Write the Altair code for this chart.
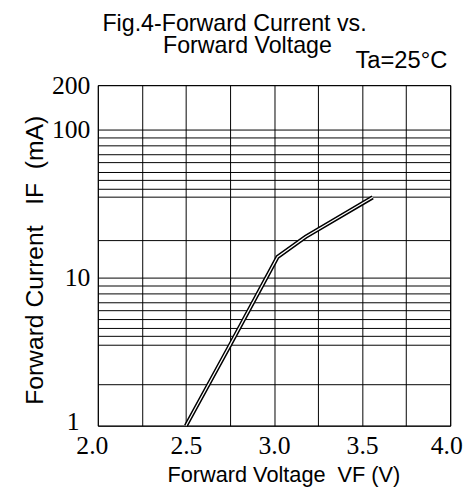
import altair as alt
import pandas as pd

# Curve (Forward Voltage in V, Forward Current in mA)
voltage = [2.5, 2.75, 3.02, 3.18, 3.56]
current = [1.0, 3.5, 13.8, 18.9, 34.9]

# Grid lines and tick labels as drawn in the reference
x_grid = [2.0, 2.25, 2.5, 2.75, 3.0, 3.25, 3.5, 3.75, 4.0]
x_labels = [2.0, 2.5, 3.0, 3.5, 4.0]
y_grid = [1, 1.9, 3.55, 4.05, 4.6, 5.25, 6.0, 6.85, 7.8, 8.85, 10,
          18, 35, 40, 45.5, 52, 60, 68, 78, 89, 100, 200]
y_labels = [1, 10, 100, 200]

title_lines = ["Fig.4-Forward Current vs.", "\u200b\u00a0\u00a0\u00a0\u00a0Forward Voltage"]
x_title = "Forward Voltage\u00a0\u00a0VF (V)"
y_title = "Forward Current\u00a0\u00a0\u00a0IF\u00a0\u00a0(mA)"
condition = ["Ta=25°C"]

df = pd.DataFrame({"V": voltage, "I": current})
cond_df = pd.DataFrame({"t": condition})

x_expr = "indexof([" + ",".join(str(v) for v in x_labels) + "], datum.value) >= 0 ? format(datum.value, '.1f') : ''"
y_expr = "indexof([" + ",".join(str(v) for v in y_labels) + "], datum.value) >= 0 ? format(datum.value, 'd') : ''"

x_enc = alt.X(
    "V:Q",
    scale=alt.Scale(domain=[2.0, 4.0], nice=False, zero=False),
    axis=alt.Axis(
        values=x_grid, labelExpr=x_expr, title=x_title,
        labelPadding=7, labelOverlap=False, labelFlush=False,
        labelOffset={"condition": [{"test": "datum.value == 2", "value": -6},
                                   {"test": "datum.value == 4", "value": -4}], "value": 0},
        titleX=188, titleY=57, titleBaseline="alphabetic", titleAlign="center",
    ),
)
y_enc = alt.Y(
    "I:Q",
    scale=alt.Scale(type="log", domain=[1, 200], nice=False),
    axis=alt.Axis(
        values=y_grid, labelExpr=y_expr, title=y_title,
        labelPadding={"condition": {"test": "datum.value == 1", "value": 19}, "value": 8},
        labelOffset={"condition": {"test": "datum.value == 1", "value": -4}, "value": 0},
        labelOverlap=False,
        titleAngle=270, titleX=-56, titleY=177, titleFontSize=25,
        titleBaseline="alphabetic", titleAlign="center",
    ),
)

base = alt.Chart(df)
outer = base.mark_line(color="black", strokeWidth=4.2).encode(x=x_enc, y=y_enc)
inner = base.mark_line(color="white", strokeWidth=1.2).encode(x=x_enc, y=y_enc)
cond = alt.Chart(cond_df).mark_text(
    align="right", baseline="alphabetic", font="Liberation Sans", fontSize=24, color="black"
).encode(text="t:N", x=alt.value(354), y=alt.value(-17))

chart = alt.layer(outer, inner, cond).properties(
    width=357,
    height=345,
    padding={"left": 91, "top": 75, "right": 15, "bottom": 60},
    autosize=alt.AutoSizeParams(type="none"),
    title=alt.TitleParams(
        text=title_lines, font="Liberation Sans", fontSize=23.5, fontWeight="normal",
        color="black", anchor="middle", dx=-40, dy=12, lineHeight=22, offset=4,
    ),
).configure_view(
    stroke="black", strokeWidth=1
).configure_axis(
    grid=True, gridColor="black", gridWidth=1, gridOpacity=1,
    domain=False, ticks=False,
    labelFont="Liberation Serif", labelFontSize=26, labelColor="black",
    titleFont="Liberation Sans", titleFontSize=22, titleFontWeight="normal", titleColor="black",
)

chart.save("out.html", embed_options={"renderer": "svg", "actions": False})
